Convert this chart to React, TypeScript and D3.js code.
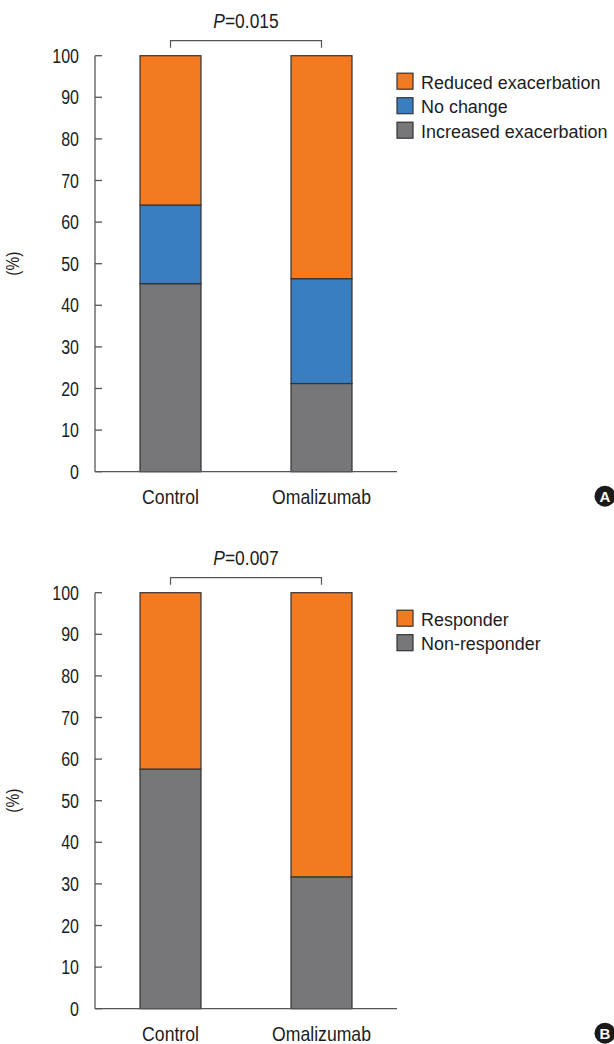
import React from "react";
import * as d3 from "d3";

// Groups and shared axis ticks
const groups = ["Control", "Omalizumab"];
const yTicks = [0, 10, 20, 30, 40, 50, 60, 70, 80, 90, 100];

// Panel A: exacerbation change (%)
const exacerbationKeys = ["Increased exacerbation", "No change", "Reduced exacerbation"];
const increasedExacerbation = [45.2, 21.2];
const noChange = [18.9, 25.2];
const reducedExacerbation = [35.9, 53.6];
const exacerbationColors = ["#77777a", "#3a7ec2", "#f37a21"];

// Panel B: treatment response (%)
const responseKeys = ["Non-responder", "Responder"];
const nonResponder = [57.6, 31.7];
const responder = [42.4, 68.3];
const responseColors = ["#77777a", "#f37a21"];

const pValues = ["0.015", "0.007"];
const panelLetters = ["A", "B"];

const FONT = "'Liberation Sans', Arial, sans-serif";
const INK = "#333";
const TEXT = "#1c1c1c";

// Text drawn with a horizontal squeeze for a condensed face
function CText({
  x,
  y,
  s = 0.86,
  size,
  anchor = "start",
  children,
}: {
  x: number;
  y: number;
  s?: number;
  size: number;
  anchor?: string;
  children: React.ReactNode;
}) {
  return (
    <text
      transform={`translate(${x},${y}) scale(${s},1)`}
      textAnchor={anchor as any}
      fontSize={size}
      fill={TEXT}
      fontFamily={FONT}
    >
      {children}
    </text>
  );
}

type PanelProps = {
  keys: string[];
  series: number[][];
  colors: string[];
  top: number;
  bottom: number;
  pValue: string;
  letter: string;
};

function Panel({ keys, series, colors, top, bottom, pValue, letter }: PanelProps) {
  const rows = groups.map((g, i) => {
    const row: Record<string, number | string> = { group: g };
    keys.forEach((k, j) => (row[k] = series[j][i]));
    return row;
  });
  const stacked = d3.stack<any>().keys(keys)(rows as any);

  const x = d3.scaleBand<string>().domain(groups).range([95, 397]).paddingInner(0.596).paddingOuter(0.298);
  const y = d3.scaleLinear().domain([0, 100]).range([bottom, top]);
  const axisX = 95;
  const cx = (g: string) => (x(g) as number) + x.bandwidth() / 2;

  const bracketY = y(100) - 15;
  const legendTop = top + 17.5;
  const legendStep = 24.5;
  // legend lists the top segment first
  const legendOrder = keys.map((k, j) => ({ k, c: colors[j] })).reverse();

  return (
    <g>
      {/* bars */}
      {stacked.map((layer, j) => (
        <g key={keys[j]} fill={colors[j]}>
          {layer.map((d: any) => (
            <rect
              key={d.data.group}
              x={x(d.data.group)}
              y={y(d[1])}
              width={x.bandwidth()}
              height={y(d[0]) - y(d[1])}
              stroke={INK}
              strokeWidth={1.2}
            />
          ))}
        </g>
      ))}

      {/* y axis with inward ticks */}
      <line x1={axisX} x2={axisX} y1={y(100)} y2={y(0)} stroke="#555" strokeWidth={1.3} />
      {yTicks.map((t) => (
        <g key={t}>
          <line x1={axisX} x2={axisX + 7} y1={y(t)} y2={y(t)} stroke="#555" strokeWidth={1.3} />
          <CText x={axisX - 16} y={y(t) + 7} s={0.82} size={19.5} anchor="end">
            {t}
          </CText>
        </g>
      ))}
      {/* x axis baseline */}
      <line x1={axisX} x2={397} y1={y(0)} y2={y(0)} stroke="#555" strokeWidth={1.3} />
      {groups.map((g) => (
        <CText key={g} x={cx(g)} y={y(0) + 32} s={0.86} size={20.5} anchor="middle">
          {g}
        </CText>
      ))}

      {/* y axis title */}
      <g transform={`translate(19, ${(y(0) + y(100)) / 2}) rotate(-90)`}>
        <CText x={0} y={0} s={0.86} size={18} anchor="middle">
          (%)
        </CText>
      </g>

      {/* significance bracket */}
      <path
        d={`M${cx(groups[0])},${bracketY + 7}V${bracketY}H${cx(groups[1])}V${bracketY + 7}`}
        fill="none"
        stroke="#555"
        strokeWidth={1.2}
      />
      <CText x={(cx(groups[0]) + cx(groups[1])) / 2} y={y(100) - 27.5} s={0.87} size={20} anchor="middle">
        <tspan fontStyle="italic">P</tspan>
        <tspan>=</tspan>
        <tspan>{pValue}</tspan>
      </CText>

      {/* legend */}
      {legendOrder.map((d, i) => (
        <g key={d.k} transform={`translate(397, ${legendTop + i * legendStep})`}>
          <rect x={0} y={0} width={16} height={16} fill={d.c} stroke={INK} strokeWidth={1.2} />
          <CText x={24} y={15.5} s={0.97} size={18.5}>
            {d.k}
          </CText>
        </g>
      ))}

      {/* panel letter */}
      <circle cx={605} cy={bottom + 24.5} r={10.5} fill="#1a1a1a" />
      <text x={605} y={bottom + 24.5} dy="0.36em" textAnchor="middle" fontSize={15} fontWeight="bold" fill="#fff" fontFamily={FONT}>
        {letter}
      </text>
    </g>
  );
}

export default function App() {
  return (
    <svg
      width={614}
      height={1044}
      style={{ position: "absolute", left: 0, top: 0, background: "#fff" }}
    >
      <Panel
        keys={exacerbationKeys}
        series={[increasedExacerbation, noChange, reducedExacerbation]}
        colors={exacerbationColors}
        top={55.7}
        bottom={471.7}
        pValue={pValues[0]}
        letter={panelLetters[0]}
      />
      <Panel
        keys={responseKeys}
        series={[nonResponder, responder]}
        colors={responseColors}
        top={592.7}
        bottom={1008.7}
        pValue={pValues[1]}
        letter={panelLetters[1]}
      />
    </svg>
  );
}
